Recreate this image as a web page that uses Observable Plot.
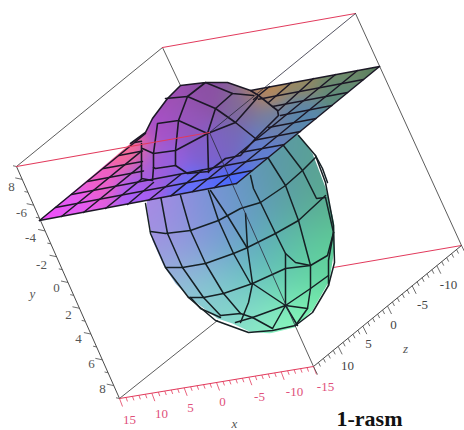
<!DOCTYPE html>
<html><head><meta charset="utf-8">
<style>html,body{margin:0;padding:0;background:#fff}svg{display:block}</style>
<script src="https://cdn.jsdelivr.net/npm/d3@7"></script>
<script src="https://cdn.jsdelivr.net/npm/@observablehq/plot@0.6"></script>
</head><body><div id="c"></div>
<script>
const boxBack = [
  [[16,166],[162,47]], [[355,13],[461,245]], [[162,47],[180,85]], [[119,398],[217,320]], [[313,366],[295,326]]
];
const boxBackRed = [ [[162,47],[355,13]], [[333,267],[461,245]] ];
const boxFront = [ [[355,13],[209,132]], [[209,132],[295,326]] ];
const boxFrontRed = [ [[16,166],[209,132]] ];
const axisY = [[16,166],[119,398]];
const axisX = [[119,398],[313,366]];
const axisZ = [[313,366],[461,245]];

const yTicks = [-9,-8,-7,-6,-5,-4,-3,-2,-1,0,1,2,3,4,5,6,7,8,9];
const xTicks = d3.range(15,-16,-1);
const zTicks = d3.range(15,-16,-1);

const yLabels = [["8",11,186],["-6",21,212],["-4",30,237],["-2",41,264],["0",56,287],["2",68,314],["4",78,338],["6",91,363],["8",102,388]];
const xLabels = [["15",129,419],["10",161,413],["5",190,407],["0",222,401],["-5",259,396],["-10",294,391],["-15",325,386]];
const zLabels = [["10",347,365],["5",368,343],["0",393,324],["-5",422,304],["-10",448,284]];
const axisNames = [["y",32,293],["x",234,423],["z",405,348]];
const title = [["1-rasm",369,418]];

const ballOutline = [[146,190],[146,205],[148,218],[152,240],[163,265],[175,283],[190,298],[217,318],[232,323],[249,331],[269,333],[294,327],[312,310],[329,280],[334,248],[334,225],[332,215],[325,187],[312,153],[297,133],[250,120],[160,170]];
const ballLines = [
  [[145,203],[150,233],[165,267],[188,297],[215,320],[237,328],[248,332],[272,330],[295,325],[312,312],[328,285],[334,262],[333,225],[325,182],[315,155],[298,135]],
  [[190,297],[200,308],[220,317]],
  [[315,155],[322,168],[327,182]],
  [[333,232],[328,260],[328,285]],
  [[160,195],[167,233],[182,267],[203,297],[220,315]],
  [[180,195],[190,230],[205,263],[223,293],[240,313]],
  [[208,190],[218,220],[233,253],[250,283],[252,283]],
  [[210,190],[228,217],[247,248]],
  [[150,231],[165,233],[190,230],[218,220],[240,208],[260,202],[285,185],[302,170],[315,157]],
  [[165,267],[182,267],[205,263],[233,253],[245,248],[275,233],[298,220],[325,195]],
  [[188,297],[203,297],[223,293],[252,283],[285,268],[310,265]],
  [[285,253],[295,262],[310,265],[327,255],[333,232]],
  [[220,315],[240,313],[252,317],[285,305],[310,288],[328,275]],
  [[235,322],[252,317]],
  [[283,145],[302,170],[316,198],[325,197]],
  [[325,197],[333,232]],
  [[268,158],[285,185],[298,220],[310,265],[310,288],[307,308]],
  [[250,175],[253,188],[260,202],[275,233],[285,253],[285,268],[285,305],[272,328]],
  [[245,213],[247,248],[252,283],[248,302],[240,322]],
  [[252,283],[285,305],[297,325]],
  [[285,305],[307,308],[295,325]],
  [[252,317],[272,328]]
];

const planeOutline = [[39,220],[130,143],[145,132],[152,118],[167,98],[180,85],[205,82],[227,82],[250,90],[379,66],[236,183]];
const planeRows = [
  [[39,220],[236,183]], [[55,207],[252,170]], [[71,194],[268,157]],
  [[87,181],[143,170.5]], [[240,152],[284,144]],
  [[103,168],[142,161]], [[255,139.5],[300,131]],
  [[118.5,155],[142,150.6]], [[268,127],[315.6,118]],
  [[134.4,142],[141,140.8]], [[280,115],[331.5,105]],
  [[272,106],[347,92]], [[258,98.7],[363,79]], [[250,90],[379,66]]
];
const planeCols = [
  [[39,220],[145,133]], [[61,216],[141,150.6]], [[83,212],[141,164.6]], [[105,208],[141,178.6]],
  [[127,204],[153,182]], [[148.5,199.5],[180.3,174]], [[170.4,195.4],[202,169.4]],
  [[192,191],[335,74]], [[214,187],[357,70]], [[236,183],[379,66]],
  [[278,110],[313,78]], [[268,102],[291,82]], [[253,99],[269,86]]
];
const bumpLines = [
  [[130,143],[145,132],[152,118],[167,98],[180,85],[205,82],[227,82],[250,90],[258,95],[277,110],[278,115],[255,138],[240,155],[225,158],[208,171],[187,173],[175,165],[155,168],[153,167],[153,153],[157,123],[178,120],[187,96],[205,82]],
  [[165,98],[187,96],[215,108],[235,122],[255,138]],
  [[205,82],[232,93],[253,95]],
  [[232,93],[215,108],[207,133],[178,120]],
  [[207,133],[235,122],[257,97]],
  [[207,133],[175,150],[153,153],[142,148]],
  [[178,120],[175,150],[175,165]],
  [[207,133],[208,172]],
  [[141,143],[141,178],[152,180],[153,167]]
];

// Colours at [x, y, colour].
const ballColors = [
  [150,210,"#b088e6"],[170,250,"#a492e2"],[200,230,"#8090de"],[170,290,"#98bcdc"],[230,210,"#6e96d4"],
  [280,195,"#5c96aa"],[320,200,"#58a888"],[330,250,"#60dc96"],[300,320,"#80ffb0"],[240,300,"#6ac4c0"],
  [260,250,"#58b0be"],[210,290,"#78c4d0"],[200,315,"#a0e8d4"],[260,335,"#a0ffd0"],[300,260,"#60cca4"]
];
const planeColors = [
  [39,220,"#f050fa"],[80,205,"#e45cf4"],[130,150,"#ff6c94"],[100,180,"#f060c4"],[135,195,"#a860fc"],
  [190,190,"#6470fc"],[232,185,"#4c6cff"],[260,150,"#6080d4"],[300,115,"#5888b0"],[340,90,"#5a8c80"],
  [379,66,"#5a8060"],[340,70,"#7a8a60"],[300,78,"#988860"],[265,88,"#c08a50"],[240,105,"#806a9c"],
  [205,95,"#8c50a4"],[170,95,"#a050b4"],[160,125,"#a850c8"],[190,120,"#9458bc"],[210,150,"#8060d0"],
  [165,160,"#9460dc"],[230,140,"#7868b8"],[150,172,"#a45cdc"],[270,120,"#7080a8"]
];

function field(anchors, sigma) {
  const pts = anchors.map(([x,y,c]) => { const k = d3.rgb(c); return [x,y,k.r,k.g,k.b]; });
  const s2 = 2*sigma*sigma;
  return (x, y) => {
    let w = 0, r = 0, g = 0, b = 0;
    for (const p of pts) {
      const q = Math.exp(-((x-p[0])**2 + (y-p[1])**2)/s2);
      w += q; r += q*p[2]; g += q*p[3]; b += q*p[4];
    }
    return w > 1e-9 ? `rgb(${r/w|0},${g/w|0},${b/w|0})` : "white";
  };
}
const flat = (lines) => lines.flatMap((l,k) => l.map(([x,y]) => ({x,y,k})));
const lineMark = (lines, o) => Plot.line(flat(lines), {x:"x", y:"y", z:"k", curve:"linear", strokeLinejoin:"round", ...o});
const at = ([[a,b],[c,d]], t) => [a+(c-a)*t, b+(d-b)*t];
const tickRows = (axis, values, lo, hi, dx, dy, every) => values.map(v => {
  const [x,y] = at(axis, (v-lo)/(hi-lo));
  const s = v % every === 0 ? 1 : 0.5;
  return {x1:x, y1:y, x2:x+dx*s, y2:y+dy*s};
});
const tickMark = (rows, stroke) => Plot.link(rows, {x1:"x1", y1:"y1", x2:"x2", y2:"y2", stroke, strokeWidth:0.8});
const textMark = (rows, o) => Plot.text(rows, {text:d=>d[0], x:d=>d[1], y:d=>d[2], fontFamily:"Liberation Serif", ...o});
const raster = (anchors, sigma) => Plot.raster({x1:0, y1:0, x2:464, y2:430, width:464, height:430, fill: field(anchors, sigma)});

const INK = "#1c1826", RED = "#e23a5c", GREY = "#4a4a4a";
const svg = Plot.plot({
  width:464, height:430, margin:0,
  x:{domain:[0,464], range:[0,464], axis:null},
  y:{domain:[0,430], range:[0,430], axis:null},
  color:{type:"identity"},
  marks:[
    lineMark(boxBack, {stroke:GREY, strokeWidth:0.9}),
    lineMark(boxBackRed, {stroke:RED, strokeWidth:1}),
    lineMark([axisY,axisZ], {stroke:GREY, strokeWidth:1}),
    lineMark([axisX], {stroke:RED, strokeWidth:1}),
    tickMark(tickRows(axisY,yTicks,-9,9,-7,-1.5,2),GREY),
    tickMark(tickRows(axisX,xTicks,15,-15,3,8,5),RED),
    tickMark(tickRows(axisZ,zTicks,15,-15,4,8,5),GREY),
    raster(ballColors, 32),
    lineMark(ballLines, {stroke:"#162024", strokeWidth:1.5}),
    raster(planeColors, 14),
    lineMark(planeRows, {stroke:INK, strokeWidth:1.5}),
    lineMark(planeCols, {stroke:INK, strokeWidth:1.5}),
    lineMark(bumpLines, {stroke:INK, strokeWidth:1.6}),
    lineMark(boxFront, {stroke:"#2a2a3a", strokeWidth:0.8}),
    lineMark(boxFrontRed, {stroke:RED, strokeWidth:1.1}),
    textMark(yLabels, {fill:"#555", fontSize:13}),
    textMark(xLabels, {fill:"#e0507a", fontSize:13}),
    textMark(zLabels, {fill:"#444", fontSize:13}),
    textMark(axisNames, {fill:"#555", fontSize:13, fontStyle:"italic"}),
    textMark(title, {fill:"#111", fontSize:22, fontWeight:"bold"})
  ]
});
// Clip each colour field to its surface outline.
const defs = d3.select(svg).insert("defs",":first-child");
const outlines = [ballOutline, planeOutline];
d3.select(svg).selectAll("image").each(function(_,i){
  defs.append("clipPath").attr("id","surf"+i).append("path").attr("d", d3.line()(outlines[i])+"Z");
  d3.select(this).attr("clip-path",`url(#surf${i})`);
});
document.getElementById("c").appendChild(svg);
</script></body></html>
